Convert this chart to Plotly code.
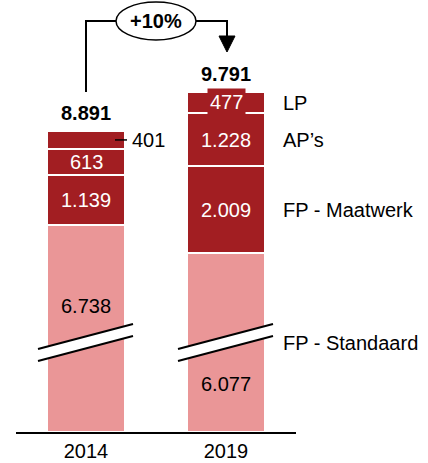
import plotly.graph_objects as go

# ---- data ----
YEARS = ["2014", "2019"]
FP_STANDAARD = [6738, 6077]
FP_MAATWERK = [1139, 2009]
APS = [613, 1228]
LP = [401, 477]
TOTALS = [8891, 9791]
GROWTH_LABEL = "+10%"
SERIES_NAMES = ["FP - Standaard", "FP - Maatwerk", "AP\u2019s", "LP"]

# ---- layout constants ----
W, H = 428, 463
ML, MR, MT, MB = 16, 132, 0, 31
PLOT_H = H - MT - MB
CUT = 1950            # amount removed by the axis break
Y_MAX = 9970
DARK = "#A21E22"
PINK = "#EA9697"
FONT = "Liberation Sans, Arial, sans-serif"
FS = 20


def fmt(v):
    return f"{v:,}".replace(",", ".")


def X(px):
    return (px - ML) / 140.0 - 0.5


def Y(py):
    return (MT + PLOT_H - py) * Y_MAX / PLOT_H


xs = list(range(len(YEARS)))
std_drawn = [v - CUT for v in FP_STANDAARD]

fig = go.Figure()
for vals, col, name in [
    (std_drawn, PINK, SERIES_NAMES[0]),
    (FP_MAATWERK, DARK, SERIES_NAMES[1]),
    (APS, DARK, SERIES_NAMES[2]),
    (LP, DARK, SERIES_NAMES[3]),
]:
    fig.add_trace(go.Bar(x=xs, y=vals, name=name, width=78 / 140,
                         marker=dict(color=col, line=dict(color="white", width=2)),
                         hoverinfo="skip", showlegend=False))

ann = []
shapes = []

for i in xs:
    b1 = std_drawn[i]
    b2 = b1 + FP_MAATWERK[i]
    b3 = b2 + APS[i]
    b4 = b3 + LP[i]
    ann.append(dict(x=i, y=b4, text="<b>" + fmt(TOTALS[i]) + "</b>", showarrow=False,
                    yanchor="middle", yshift=18, font=dict(size=FS, color="black")))
    ann.append(dict(x=i, y=(b1 + b2) / 2, text=fmt(FP_MAATWERK[i]), showarrow=False,
                    font=dict(size=FS, color="white")))
    ann.append(dict(x=i, y=(b2 + b3) / 2, text=fmt(APS[i]), showarrow=False,
                    font=dict(size=FS, color="white")))

# LP labels
lp14_mid = std_drawn[0] + FP_MAATWERK[0] + APS[0] + LP[0] / 2
ann.append(dict(x=X(130), y=lp14_mid, text=fmt(LP[0]), showarrow=False, xanchor="left",
                font=dict(size=FS, color="black")))
shapes.append(dict(type="line", x0=X(115), x1=X(127), y0=lp14_mid, y1=lp14_mid,
                   line=dict(color="black", width=1.5)))
top19 = std_drawn[1] + FP_MAATWERK[1] + APS[1]
ann.append(dict(x=1, y=top19 + LP[1] / 2, text=fmt(LP[1]), showarrow=False,
                bgcolor=DARK, borderpad=2, yshift=1,
                font=dict(size=FS, color="white")))

# standard labels (above / below the break)
ann.append(dict(x=0, y=std_drawn[0], text=fmt(FP_STANDAARD[0]), showarrow=False,
                yanchor="middle", yshift=-81, font=dict(size=FS, color="black")))
ann.append(dict(x=1, y=0, text=fmt(FP_STANDAARD[1]), showarrow=False,
                yanchor="middle", yshift=48, font=dict(size=FS, color="black")))

# right-side series labels (next to 2019 bar)
mids19 = [std_drawn[1] / 2, std_drawn[1] + FP_MAATWERK[1] / 2,
          std_drawn[1] + FP_MAATWERK[1] + APS[1] / 2, top19 + LP[1] / 2]
for name, ym in zip(SERIES_NAMES, mids19):
    ann.append(dict(x=1, y=ym, text=name, showarrow=False, xanchor="left", xshift=55,
                    font=dict(size=FS, color="black")))

# axis-break marks
for cx in (86, 226):
    xl, xr = X(cx - 48), X(cx + 47)
    shapes.append(dict(type="path",
                       path=f"M {xl},{Y(349)} L {xr},{Y(324)} L {xr},{Y(336)} L {xl},{Y(361)} Z",
                       fillcolor="white", line=dict(width=0)))
    shapes.append(dict(type="line", x0=xl, y0=Y(349), x1=xr, y1=Y(324),
                       line=dict(color="black", width=2)))
    shapes.append(dict(type="line", x0=xl, y0=Y(361), x1=xr, y1=Y(336),
                       line=dict(color="black", width=2)))

# growth bracket
yb = Y(21)
shapes.append(dict(type="path",
                   path=f"M 0,{Y(92)} L 0,{yb} L {X(116)},{yb}",
                   line=dict(color="black", width=2)))
shapes.append(dict(type="path",
                   path=f"M {X(196)},{yb} L {X(227)},{yb} L {X(227)},{Y(38)}",
                   line=dict(color="black", width=2)))
shapes.append(dict(type="path",
                   path=f"M {X(219)},{Y(36)} L {X(235)},{Y(36)} L {X(227)},{Y(52)} Z",
                   fillcolor="black", line=dict(color="black", width=1)))
shapes.append(dict(type="circle", x0=X(116), x1=X(196), y0=Y(40), y1=Y(2),
                   fillcolor="white", line=dict(color="black", width=1.5)))
ann.append(dict(x=X(156), y=yb, text="<b>" + GROWTH_LABEL + "</b>", showarrow=False,
                font=dict(size=FS, color="black")))

fig.update_layout(
    width=W, height=H,
    margin=dict(l=ML, r=MR, t=MT, b=MB),
    barmode="stack",
    plot_bgcolor="white", paper_bgcolor="white",
    font=dict(family=FONT, size=FS, color="black"),
    annotations=ann, shapes=shapes,
    xaxis=dict(range=[-0.5, 1.5], tickvals=xs, ticktext=YEARS, showgrid=False,
               zeroline=False, showline=True, linecolor="black", linewidth=1.5,
               ticks="", tickfont=dict(size=FS, color="black")),
    yaxis=dict(range=[0, Y_MAX], visible=False, showgrid=False, zeroline=False),
)

fig.write_html("out.html",
               config={"displayModeBar": False, "staticPlot": True},
               post_script="document.body.style.margin='0';document.body.style.overflow='hidden';")
